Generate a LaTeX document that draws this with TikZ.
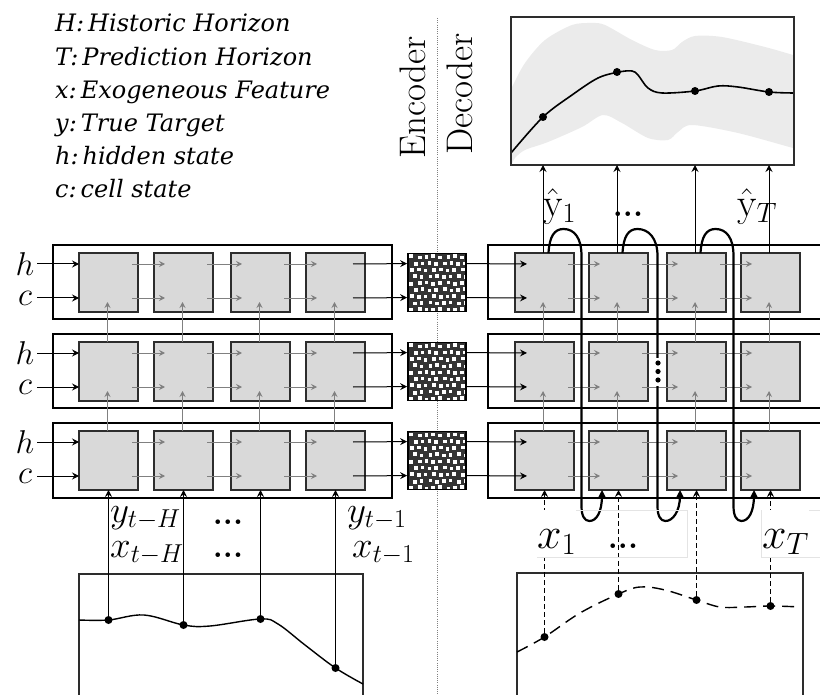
\RequirePackage{fix-cm}
\documentclass[tikz,border=0pt]{standalone}
\usepackage{fontspec}
\newfontfamily\legfont{DejaVu Serif}
\usetikzlibrary{arrows.meta,calc}
\definecolor{cellfill}{RGB}{217,217,217}
\definecolor{cellborder}{RGB}{45,45,45}
\definecolor{arrgray}{RGB}{128,128,128}
\definecolor{bandgray}{RGB}{235,235,235}
\definecolor{chkdark}{RGB}{52,52,52}
\definecolor{faint}{RGB}{228,228,228}
\begin{document}
\begin{tikzpicture}[x=1pt,y=-1pt,
  cell/.style={draw=cellborder,fill=cellfill,line width=1.4pt,minimum width=59pt,minimum height=59pt,inner sep=0pt,outer sep=0pt},
  rowbox/.style={draw=black,line width=1.1pt},
  garrow/.style={draw=arrgray,line width=0.9pt,-{Stealth[length=6pt,width=6pt,inset=2.2pt]}},
  barrow/.style={draw=black,line width=1pt,-{Stealth[length=7pt,width=7pt,inset=2.5pt]}},
  darrow/.style={barrow,dash pattern=on 5pt off 3pt},
  bigloop/.style={draw=black,line width=2.2pt,-{Stealth[length=9pt,width=9pt,inset=3pt]}},
  pdot/.style={circle,fill=black,inner sep=0pt,minimum size=8pt},
  plotbox/.style={draw=cellborder,line width=1.2pt},
  legend/.style={anchor=base west,inner sep=0pt,font=\legfont\itshape\fontsize{24}{30}\selectfont},
  hc/.style={inner sep=0pt,font=\fontsize{33}{35}\selectfont},
  inlab/.style={anchor=base west,inner sep=0pt,font=\fontsize{37}{39}\selectfont},
  xlab/.style={anchor=base west,inner xsep=0pt,inner ysep=0pt,fill=white,text height=38pt,text depth=9pt,font=\fontsize{44}{46}\selectfont},
  yhat/.style={anchor=base west,inner sep=0pt,font=\fontsize{40}{42}\selectfont},
  ell/.style={anchor=base,inner sep=0pt,font=\fontsize{32}{34}\selectfont\bfseries},
  vtext/.style={rotate=90,anchor=base,inner sep=0pt,font=\fontsize{37}{40}\selectfont},
  chk/.style={draw=black,line width=1.8pt,fill=chkdark,minimum width=58pt,minimum height=58pt,inner sep=0pt,
    path picture={
      \foreach \i in {0,...,7}{\foreach \j in {0,...,8}{
        \pgfmathsetmacro{\ax}{1.2+7.2*\i+mod(\j,2)*3.4+mod(\i*3+\j*7,4)*0.5}
        \pgfmathsetmacro{\ay}{1.0+6.6*\j+mod(\i*5+\j*2,3)*0.6}
        \fill[white] ([shift={(\ax pt,-\ay pt)}]path picture bounding box.north west) rectangle ++(3.6pt,-3.6pt);
      }}}}
]
\useasboundingbox (0,0) rectangle (820,695);

% separator
\draw[gray,line width=0.8pt,dash pattern=on 0.8pt off 1.4pt] (437,18) -- (437,695);

% top output plot
\begin{scope}
  \clip (511,17) rectangle (794,165);
  \fill[bandgray] plot[smooth cycle,tension=0.5] coordinates {(506,100) (512,87) (525,63) (545,40) (572,25) (592,23) (605,25) (632,40) (655,50) (672,50) (682,42) (695,36) (722,37) (765,47) (793,55) (802,58) (802,150) (793,148) (738,133) (692,125) (678,132) (668,140) (648,138) (622,123) (603,115) (582,127) (548,142) (525,150) (515,158) (506,170)};
  \draw[line width=1.6pt] plot[smooth,tension=0.55] coordinates {(511,153) (543,117) (572,95) (598,78) (619,72) (632,71) (638,75) (648,88) (662,93) (695,91) (718,86) (738,87) (769,92) (794,93)};
\end{scope}
\node[draw=cellborder,line width=1.4pt,minimum width=283pt,minimum height=148pt,inner sep=0pt,outer sep=0pt] (TP) at (652.5,91) {};
\node[pdot] (T1) at (543,117) {};
\node[pdot] (T2) at (617,72) {};
\node[pdot] (T3) at (695,91) {};
\node[pdot] (T4) at (769,92) {};

% row boxes
\foreach \a/\b in {245/319,334/408,423/498}{
  \draw[rowbox] (53,\a) rectangle (392,\b);
  \draw[rowbox] (488,\a) rectangle (830,\b);
}

% cells
\foreach \r/\y in {1/282.5,2/371.5,3/460.5}{
  \foreach \c/\x in {1/108.5,2/183.5,3/260.5,4/335.5}{\node[cell] (E\r\c) at (\x,\y) {};}
  \foreach \c/\x in {1/544.5,2/618.5,3/696.5,4/770.5}{\node[cell] (D\r\c) at (\x,\y) {};}
  \node[chk] (K\r) at (437,\y) {};
}

% h / c inputs
\foreach \r in {1,2,3}{
  \node[hc] (h\r) at ($(E\r1.north west)+(-54,11)$) {$h$};
  \node[hc] (c\r) at ($(E\r1.north west)+(-54,45)$) {$c$};
  \draw[barrow] ($(E\r1.north west)+(-42,11)$) -- ($(E\r1.north west)+(0,11)$);
  \draw[barrow] ($(E\r1.north west)+(-42,45)$) -- ($(E\r1.north west)+(0,45)$);
}

% gray horizontal arrows
\foreach \r in {1,2,3}{\foreach \c/\n in {1/2,2/3,3/4}{\foreach \dy in {11,45}{
  \draw[garrow] ($(E\r\c.north east)+(-6,\dy)$) -- ($(E\r\n.north west)+(11,\dy)$);
  \draw[garrow] ($(D\r\c.north east)+(-6,\dy)$) -- ($(D\r\n.north west)+(11,\dy)$);
}}}

% encoder -> bridge -> decoder
\foreach \r in {1,2,3}{\foreach \dy in {11,45}{
  \draw[barrow] ($(E\r4.north east)+(-12,\dy)$) -- ($(K\r.north west)+(0,\dy)$);
  \draw[barrow] ($(K\r.north east)+(0,\dy)$) -- ($(D\r1.north west)+(12,\dy)$);
}}

% vertical gray arrows
\foreach \r/\u in {2/1,3/2}{\foreach \c in {1,2,3,4}{
  \draw[garrow] ($(E\r\c.north)+(-1,0)$) -- ($(E\u\c.south)+(-1,-10)$);
  \draw[garrow] ($(D\r\c.north)+(-1.5,0)$) -- ($(D\u\c.south)+(-1.5,-10)$);
}}

% outputs to top plot
\foreach \c in {1,2,3,4}{
  \coordinate (o\c) at ($(D1\c.north)+(-1.5,0)$);
  \draw[barrow] (o\c) -- (o\c |- TP.south);
}

% feedback loops
\foreach \c/\n/\sx/\gx in {1/2/548.5/581.5,2/3/622.5/657.5,3/4/700.5/733.5}{
  \coordinate (ls\c) at ($(D1\c.north)+(4,0)$);
  \coordinate (le\c) at ($(D3\n.south west)+(13,0)$);
  \draw[bigloop] (ls\c) .. controls ({\sx+1},236) and ({\sx+6},229) .. ({\sx+15},229)
     .. controls ({\sx+26},229) and (\gx,238) .. (\gx,256) -- (\gx,506)
     .. controls (\gx,516) and ({\gx+3},521) .. ({\gx+8},521)
     .. controls ({\gx+15},521) and ($(le\c)+(0,22)$) .. (le\c);
}

% vertical dots
\node[fill=white,inner sep=0pt,minimum width=10pt,minimum height=28pt] (vd) at (658,372) {};
\fill (658,363) circle (2.6);
\fill (658,371.5) circle (2.6);
\fill (658,380) circle (2.6);

% bottom-left history plot
\draw[plotbox] (79,574) rectangle (363,700);
\draw[line width=1.4pt] plot[smooth,tension=0.6] coordinates {(79,620) (108.5,620) (144,615) (183.5,625) (210,626) (260.5,619) (278,624) (305,645) (335.5,668) (363,684)};
\node[pdot] (P1) at (108.5,620) {};
\node[pdot] (P2) at (183.5,625) {};
\node[pdot] (P3) at (260.5,619) {};
\node[pdot] (P4) at (335.5,668) {};
\foreach \c in {1,2,3,4}{\draw[barrow] (P\c) -- (P\c |- E3\c.south);}

% bottom-right feature plot
\draw[plotbox] (517,573) rectangle (803,700);
\draw[line width=1.4pt,dash pattern=on 12pt off 7pt] plot[smooth,tension=0.6] coordinates {(517,652) (544.5,637) (580,613) (618.5,594) (640,587) (665,590) (696.5,600) (720,607) (745,607) (770.5,606) (801,607)};
\node[pdot] (Q1) at (544.5,637) {};
\node[pdot] (Q2) at (618.5,594) {};
\node[pdot] (Q3) at (696.5,600) {};
\node[pdot] (Q4) at (770.5,606) {};
\foreach \c in {1,2,3,4}{\draw[darrow] (Q\c) -- (Q\c |- D3\c.south);}
\draw[faint,line width=0.8pt] (537,510) rectangle (687,557);
\draw[faint,line width=0.8pt] (761,510) rectangle (830,557);

% labels
\node[yhat] (yh1) at (543,217) {$\hat{\mathrm{y}}_1$};
\node[ell] (ydots) at (628,217) {...};
\node[yhat] (yhT) at (737,217) {$\hat{\mathrm{y}}_T$};

\node[inlab] (yH) at (110,522) {$y_{t-H}$};
\node[inlab] (xH) at (110,557) {$x_{t-H}$};
\node[ell] (d1) at (228,524) {...};
\node[ell] (d2) at (228,557) {...};
\node[inlab] (y1) at (347,522) {$y_{t-1}$};
\node[inlab] (x1m) at (352,557) {$x_{t-1}$};

\node[xlab] (x1) at (537,548) {$x_1$};
\node[ell] (d3) at (623,548) {...};
\node[xlab] (xT) at (762,548) {$x_T$};

% encoder / decoder
\node[vtext] (enc) at (425,97.5) {Encoder};
\node[vtext] (dec) at (472,94) {Decoder};

% legend
\node[legend] (L1) at (55,32) {H:\,Historic Horizon};
\node[legend] (L2) at (55,65.2) {T:\,Prediction Horizon};
\node[legend] (L3) at (55,98.4) {x:\,Exogeneous Feature};
\node[legend] (L4) at (55,131.6) {y:\,True Target};
\node[legend] (L5) at (55,164.8) {h:\,hidden state};
\node[legend] (L6) at (55,198) {c:\,cell state};
\end{tikzpicture}
\end{document}
